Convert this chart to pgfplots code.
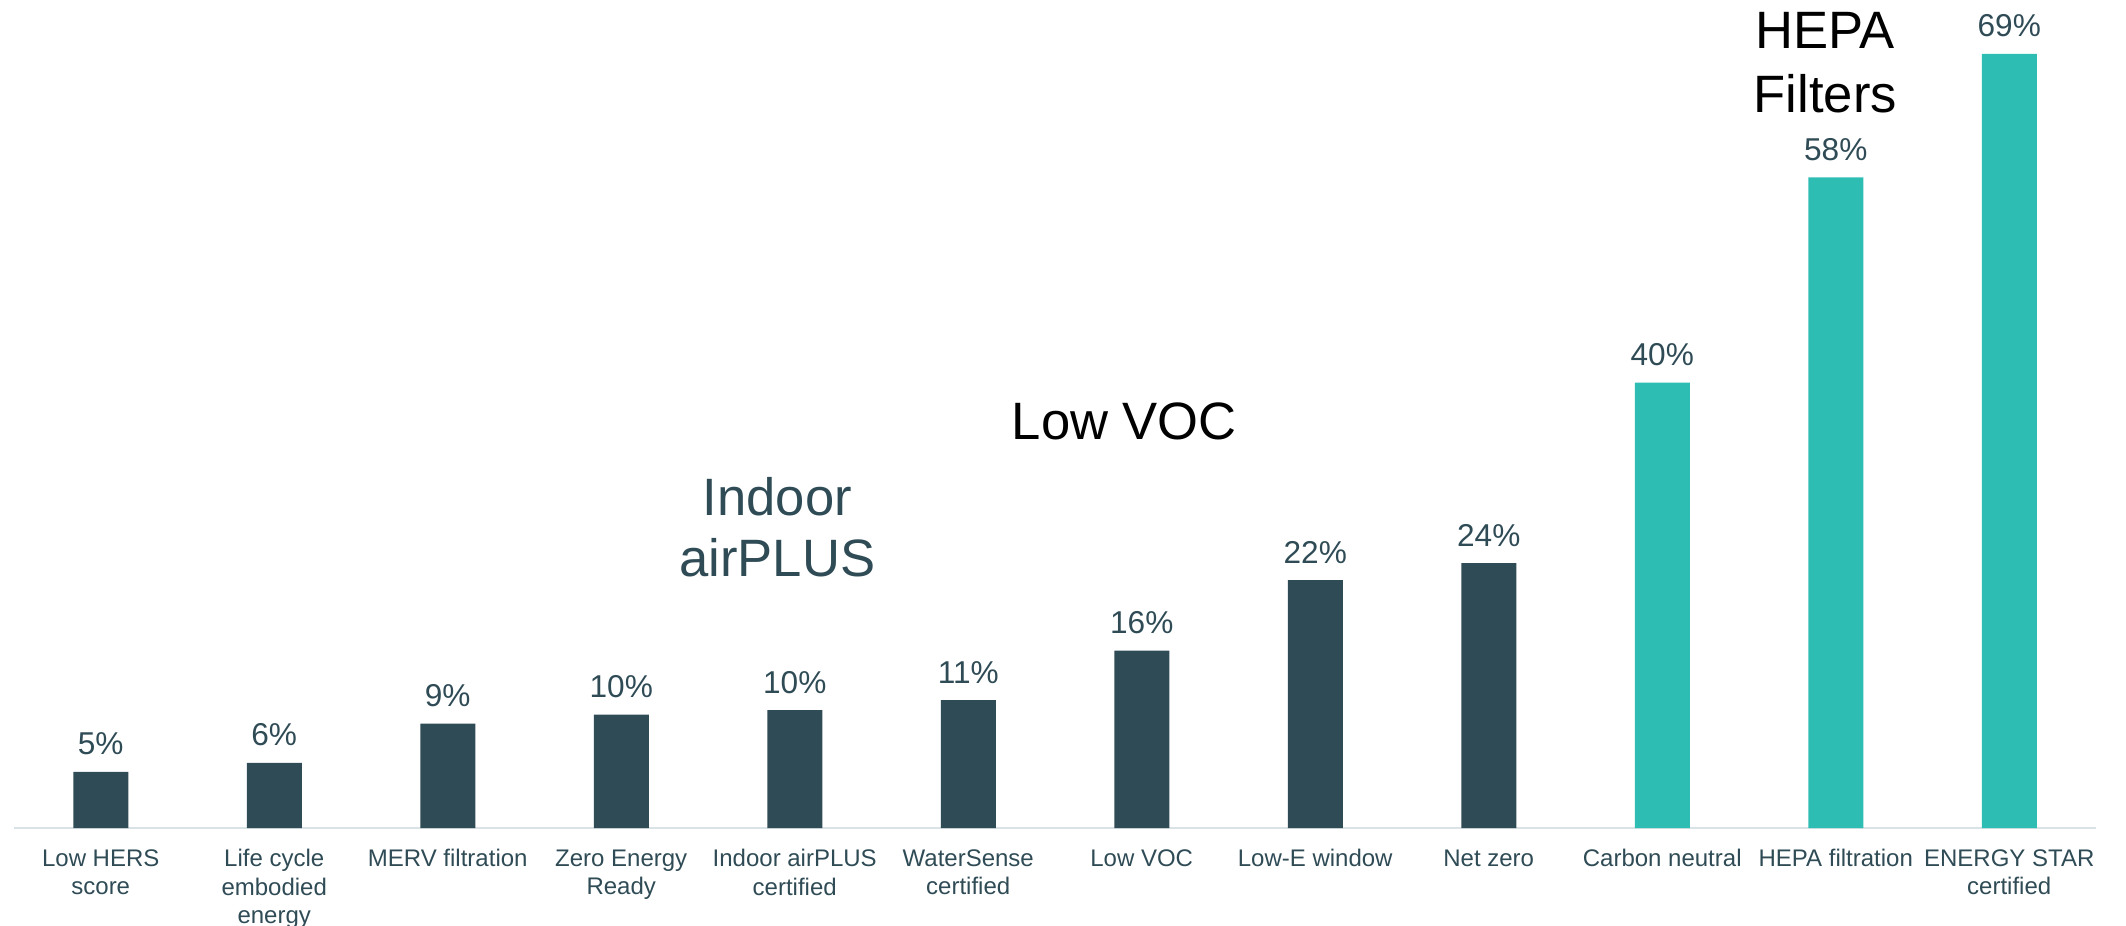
\documentclass[border=0pt]{standalone}
\usepackage{pgfplots}
\pgfplotsset{compat=1.18}
\usepackage{fontspec}
\setmainfont{Liberation Sans}
\definecolor{slate}{HTML}{2F4B55}
\definecolor{tealbar}{HTML}{2EBDB3}
\definecolor{axisgray}{HTML}{D9E2E6}
\begin{document}
\begin{tikzpicture}
\begin{axis}[
  scale only axis, width=1041pt, height=414pt,
  xmin=-0.5, xmax=11.5, ymin=0, ymax=73.8,
  axis x line=bottom, axis y line=none,
  x axis line style={-, axisgray, line width=1pt},
  xtick={0,...,11},
  xticklabels={{Low HERS\\score},{Life cycle\\embodied\\energy},{MERV filtration},{Zero Energy\\Ready},{Indoor airPLUS\\certified},{WaterSense\\certified},{Low VOC},{Low-E window},{Net zero},{Carbon neutral},{HEPA filtration},{ENERGY STAR\\certified}},
  xtick style={draw=none}, ytick=\empty,
  xticklabel style={font=\fontsize{12}{14.2}\selectfont, text=slate, align=center, anchor=north, inner sep=0pt, yshift=-6.3pt},
  ybar, bar width=27.5pt, bar shift=0pt,
  nodes near coords, point meta=explicit symbolic,
  every node near coord/.append style={font=\fontsize{15.8}{18}\selectfont, text=slate, anchor=base, inner sep=0pt, yshift=8.5pt},
  clip=false,
]
\addplot[draw=none, fill=slate] coordinates {
 (0,5.0) [5\%] (1,5.8) [6\%] (2,9.3) [9\%] (3,10.1) [10\%] (4,10.5) [10\%]
 (5,11.4) [11\%] (6,15.8) [16\%] (7,22.1) [22\%] (8,23.6) [24\%]
};
\addplot[draw=none, fill=tealbar] coordinates {
 (9,39.7) [40\%] (10,58.0) [58\%] (11,69.0) [69\%]
};
\coordinate (bl) at (rel axis cs:0,0);
\node[anchor=north, align=center, font=\fontsize{26.3}{30.5}\selectfont, text=slate, inner sep=0pt] at (axis cs:3.90,31.3) {Indoor\\airPLUS};
\node[anchor=north, font=\fontsize{26.3}{30.5}\selectfont, text=black, inner sep=0pt] at (axis cs:5.90,37.9) {Low VOC};
\node[anchor=north, align=center, font=\fontsize{26.3}{32}\selectfont, text=black, inner sep=0pt] at (axis cs:9.94,72.7) {HEPA\\Filters};
\end{axis}
\pgfresetboundingbox
\path[use as bounding box] ([shift={(-7pt,-49pt)}]bl) rectangle ++(1063pt,463pt);
\end{tikzpicture}
\end{document}
